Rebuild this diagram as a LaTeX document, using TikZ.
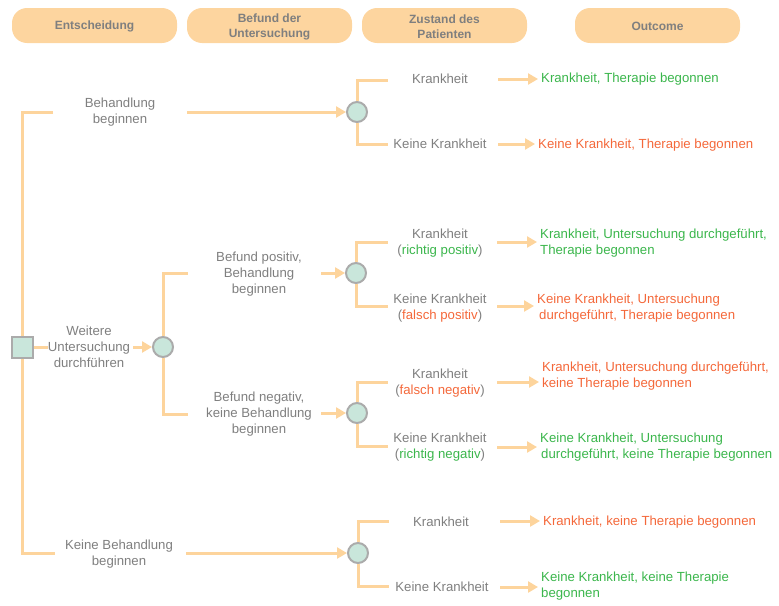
\documentclass[tikz,border=0pt]{standalone}
\usepackage{fontspec}
\setmainfont{Liberation Sans}
\usetikzlibrary{arrows.meta}
\definecolor{lineor}{HTML}{FDD49C}
\definecolor{pill}{HTML}{FDD59F}
\definecolor{txt}{HTML}{7F7F7F}
\definecolor{good}{HTML}{3BB64C}
\definecolor{bad}{HTML}{F4683A}
\definecolor{mint}{HTML}{C9E6DB}
\definecolor{rim}{HTML}{ABABAB}
\begin{document}
\begin{tikzpicture}[x=1pt,y=-1pt,
 conn/.style={draw=lineor, line width=3pt},
 arr/.style={conn, -{Triangle[length=10pt,width=11pt]}},
 lab/.style={text=txt, font=\fontsize{13.2}{16}\selectfont, align=center, inner sep=0pt},
 outc/.style={font=\fontsize{13.2}{16}\selectfont, align=left, anchor=west, inner xsep=3pt, inner ysep=1pt},
 head/.style={fill=pill, rounded corners=15pt, minimum width=165pt, minimum height=35pt, inner sep=0pt},
 headtext/.style={text=txt, font=\bfseries\fontsize{12}{15}\selectfont, align=center, inner sep=0pt},
 chance/.style={circle, fill=mint, draw=rim, line width=2pt, minimum size=20pt, inner sep=0pt},
 dec/.style={rectangle, fill=mint, draw=rim, line width=2pt, minimum size=21pt, inner sep=0pt}]
\useasboundingbox (0,0) rectangle (779,605);

% headers
\node[head] (h1) at (94.5,25.5) {};
\node[head] (h2) at (269.5,25.5) {};
\node[head] (h3) at (444.5,25.5) {};
\node[head] (h4) at (657.5,25.5) {};
\node[headtext] (ht1) at (94.5,26) {Entscheidung};
\node[headtext] (ht2) at (269.5,27) {Befund der\\Untersuchung};
\node[headtext] (ht3) at (444.5,27) {Zustand des\\Patienten};
\node[headtext] (ht4) at (657.5,26) {Outcome};

% decision node and trunk
\coordinate (a1) at (53,112);
\coordinate (a3) at (55,553);
\coordinate (m0s) at (48,347);
\draw[conn] (a1) -| (22,347) |- (a3);
\draw[conn] (22,347) -- (m0s);
\node[dec] (d) at (22,347) {};

% branch 1: Behandlung beginnen
\node[lab] (l1) at (120,112) {Behandlung\\beginnen};
\coordinate (l1s) at (187,112);
\node[chance] (c1) at (357,112) {};
\draw[arr] (l1s) -- (c1);
\coordinate (c1u) at (388,80);
\coordinate (c1d) at (388,144);
\draw[conn] (c1.north) |- (c1u);
\draw[conn] (c1.south) |- (c1d);
\node[lab] (s1) at (440,79) {Krankheit};
\node[lab] (s2) at (440,144) {Keine Krankheit};
\coordinate (s1e) at (498,79);
\coordinate (s2e) at (498,144);
\node[outc,text=good] (o1) at (538,79) {Krankheit, Therapie begonnen};
\node[outc,text=bad] (o2) at (535,145) {Keine Krankheit, Therapie begonnen};
\draw[arr] (s1e) -- (o1.west |- s1e);
\draw[arr] (s2e) -- (o2.west |- s2e);

% branch 2: Weitere Untersuchung
\node[lab] (l2) at (89,347) {Weitere\\Untersuchung\\durchführen};
\coordinate (l2e) at (133,347);
\node[chance] (m0) at (163,347) {};
\draw[arr] (l2e) -- (m0);
\coordinate (m0u) at (188,273);
\coordinate (m0d) at (188,414);
\draw[conn] (m0.north) |- (m0u);
\draw[conn] (m0.south) |- (m0d);

\node[lab] (p) at (259,274) {Befund positiv,\\Behandlung\\beginnen};
\coordinate (pe) at (321,273);
\node[chance] (c2) at (356,273) {};
\draw[arr] (pe) -- (c2);
\coordinate (c2u) at (388,242);
\coordinate (c2d) at (388,306);
\draw[conn] (c2.north) |- (c2u);
\draw[conn] (c2.south) |- (c2d);
\node[lab] (s3) at (440,243) {Krankheit\\(\textcolor{good}{richtig positiv})};
\node[lab] (s4) at (440,308) {Keine Krankheit\\(\textcolor{bad}{falsch positiv})};
\coordinate (s3e) at (497,242);
\coordinate (s4e) at (497,306);
\node[outc,text=good] (o3) at (537,243) {Krankheit, Untersuchung durchgeführt,\\Therapie begonnen};
\node[outc,text=bad] (o4) at (534,308) {Keine Krankheit, Untersuchung\\\hspace*{2pt}durchgeführt, Therapie begonnen};
\draw[arr] (s3e) -- (o3.west |- s3e);
\draw[arr] (s4e) -- (o4.west |- s4e);

\node[lab] (n) at (259,414) {Befund negativ,\\keine Behandlung\\beginnen};
\coordinate (ne) at (321,413);
\node[chance] (c3) at (357,413) {};
\draw[arr] (ne) -- (c3);
\coordinate (c3u) at (388,382);
\coordinate (c3d) at (388,446);
\draw[conn] (c3.north) |- (c3u);
\draw[conn] (c3.south) |- (c3d);
\node[lab] (s5) at (440,383) {Krankheit\\(\textcolor{bad}{falsch negativ})};
\node[lab] (s6) at (440,447) {Keine Krankheit\\(\textcolor{good}{richtig negativ})};
\coordinate (s5e) at (497,382);
\coordinate (s6e) at (497,447);
\node[outc,text=bad] (o5) at (539,376) {Krankheit, Untersuchung durchgeführt,\\keine Therapie begonnen};
\node[outc,text=good] (o6) at (537,447) {Keine Krankheit, Untersuchung\\\hspace*{1pt}durchgeführt, keine Therapie begonnen};
\draw[arr] (s5e) -- (o5.west |- s5e);
\draw[arr] (s6e) -- (o6.west |- s6e);

% branch 3: Keine Behandlung
\node[lab] (l3) at (119,554) {Keine Behandlung\\beginnen};
\coordinate (l3s) at (186,553);
\node[chance] (c4) at (358,553) {};
\draw[arr] (l3s) -- (c4);
\coordinate (c4u) at (389,521);
\coordinate (c4d) at (389,586);
\draw[conn] (c4.north) |- (c4u);
\draw[conn] (c4.south) |- (c4d);
\node[lab] (s7) at (441,522) {Krankheit};
\node[lab] (s8) at (442,587) {Keine Krankheit};
\coordinate (s7e) at (500,521);
\coordinate (s8e) at (500,587);
\node[outc,text=bad] (o7) at (540,522) {Krankheit, keine Therapie begonnen};
\node[outc,text=good] (o8) at (538,586) {Keine Krankheit, keine Therapie\\begonnen};
\draw[arr] (s7e) -- (o7.west |- s7e);
\draw[arr] (s8e) -- (o8.west |- s8e);
\end{tikzpicture}
\end{document}
